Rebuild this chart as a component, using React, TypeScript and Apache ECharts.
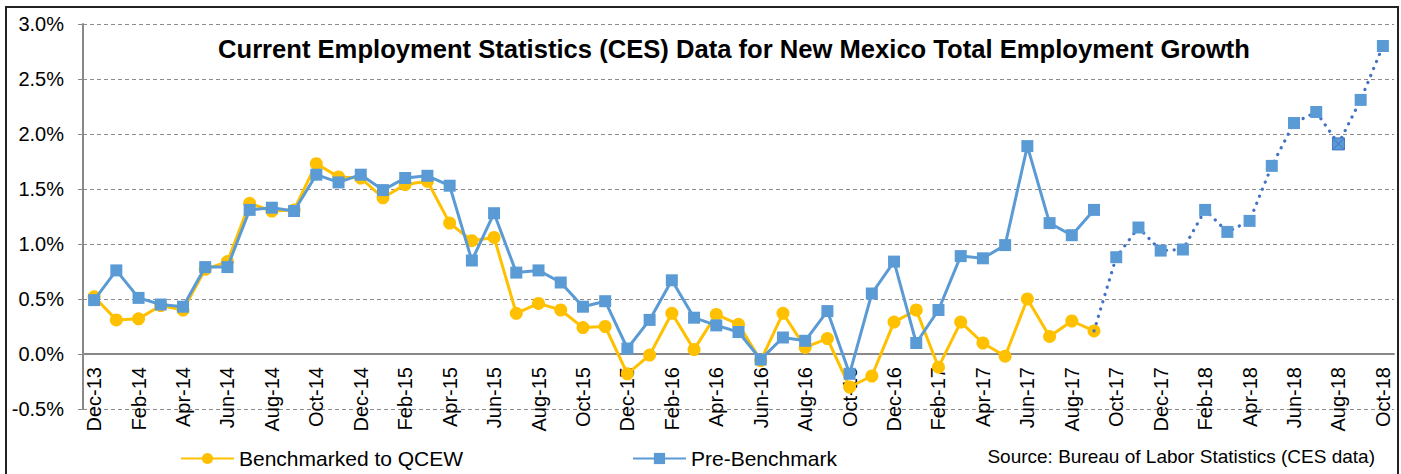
import React, { useEffect, useRef } from "react";
import * as echarts from "echarts";

const categories = [
  "Dec-13", "Jan-14", "Feb-14", "Mar-14", "Apr-14", "May-14", "Jun-14", "Jul-14", "Aug-14", "Sep-14", "Oct-14", "Nov-14",
  "Dec-14", "Jan-15", "Feb-15", "Mar-15", "Apr-15", "May-15", "Jun-15", "Jul-15", "Aug-15", "Sep-15", "Oct-15", "Nov-15",
  "Dec-15", "Jan-16", "Feb-16", "Mar-16", "Apr-16", "May-16", "Jun-16", "Jul-16", "Aug-16", "Sep-16", "Oct-16", "Nov-16",
  "Dec-16", "Jan-17", "Feb-17", "Mar-17", "Apr-17", "May-17", "Jun-17", "Jul-17", "Aug-17", "Sep-17", "Oct-17", "Nov-17",
  "Dec-17", "Jan-18", "Feb-18", "Mar-18", "Apr-18", "May-18", "Jun-18", "Jul-18", "Aug-18", "Sep-18", "Oct-18",
];

// Dec-13 .. Sep-17
const benchmarked = [
  0.52, 0.31, 0.32, 0.44, 0.40, 0.77, 0.84, 1.37, 1.30, 1.31, 1.73, 1.61,
  1.60, 1.42, 1.54, 1.57, 1.19, 1.03, 1.06, 0.37, 0.46, 0.40, 0.24, 0.25,
  -0.18, -0.01, 0.37, 0.04, 0.36, 0.27, -0.06, 0.37, 0.06, 0.14, -0.30, -0.20,
  0.29, 0.40, -0.12, 0.29, 0.10, -0.02, 0.50, 0.16, 0.30, 0.21,
];

// Dec-13 .. Sep-17
const preBenchmark = [
  0.49, 0.76, 0.51, 0.45, 0.43, 0.79, 0.79, 1.31, 1.33, 1.30, 1.63, 1.56,
  1.63, 1.49, 1.60, 1.62, 1.53, 0.85, 1.28, 0.74, 0.76, 0.65, 0.43, 0.48,
  0.05, 0.31, 0.67, 0.33, 0.26, 0.20, -0.05, 0.15, 0.12, 0.39, -0.18, 0.55,
  0.84, 0.10, 0.40, 0.89, 0.87, 0.99, 1.89, 1.19, 1.08, 1.31,
];

// Oct-17 .. Oct-18 (dotted continuation)
const projected = [0.88, 1.15, 0.94, 0.95, 1.31, 1.11, 1.21, 1.71, 2.10, 2.20, 1.91, 2.31, 2.80];
const crossedIndex = 10; // Aug-18 marker with a cross

const yTicks = { min: -0.5, max: 3.0, interval: 0.5 };

const FONT = "'Liberation Sans', Arial, sans-serif";
const YELLOW = "#FFC000";
const BLUE = "#5B9BD5";
const DOT_BLUE = "#4472C4";

const GRID_TOP = 24;
const GRID_BOTTOM = 65;
const CHART_H = 474;

export default function App() {
  const ref = useRef<HTMLDivElement>(null);

  useEffect(() => {
    if (!ref.current) return;
    const chart = echarts.init(ref.current, undefined, { renderer: "svg" });

    const startIdx = benchmarked.length - 1;
    const dottedData: any[] = categories.map(() => null);
    dottedData[startIdx] = { value: benchmarked[startIdx], symbol: "none" };
    projected.forEach((v, i) => {
      if (i === crossedIndex) {
        dottedData[startIdx + 1 + i] = {
          value: v,
          symbol: "path://M0 0L10 0L10 10L0 10Z M0 0L10 10 M10 0L0 10",
          itemStyle: { color: BLUE, borderColor: DOT_BLUE, borderWidth: 1 },
        };
      } else {
        dottedData[startIdx + 1 + i] = v;
      }
    });

    // offset that moves the category axis from the grid bottom up to the zero line
    const plotH = CHART_H - GRID_TOP - GRID_BOTTOM;
    const zeroOffset = -((0 - yTicks.min) / (yTicks.max - yTicks.min)) * plotH;

    const option: any = {
      animation: false,
      backgroundColor: "#fff",
      textStyle: { fontFamily: FONT },
      grid: {
        left: 83,
        right: 7,
        top: GRID_TOP,
        bottom: GRID_BOTTOM,
        containLabel: false,
        outerBoundsMode: "none",
      },
      xAxis: {
        type: "category",
        data: categories,
        boundaryGap: true,
        position: "bottom",
        offset: zeroOffset,
        axisLine: { show: true, onZero: false, lineStyle: { color: "#898989", width: 2 } },
        axisTick: { show: false },
        axisLabel: {
          interval: 1,
          rotate: 90,
          margin: 13,
          color: "#000",
          fontSize: 20,
          fontFamily: FONT,
        },
        splitLine: { show: false },
      },
      yAxis: {
        type: "value",
        min: yTicks.min,
        max: yTicks.max,
        interval: yTicks.interval,
        axisLine: { show: true, lineStyle: { color: "#898989", width: 2 } },
        axisTick: { show: true, length: 5, lineStyle: { color: "#898989", width: 1 } },
        axisLabel: {
          color: "#000",
          fontSize: 20,
          fontFamily: FONT,
          margin: 19,
          formatter: (v: number) => v.toFixed(1) + "%",
        },
        splitLine: { show: true, lineStyle: { color: "#8c8c8c", type: [4, 3], width: 1 } },
      },
      legend: [
        {
          data: ["Benchmarked to QCEW"],
          left: 175,
          top: 443,
          itemWidth: 53,
          itemHeight: 14,
          itemGap: 5,
          textStyle: { fontSize: 21, color: "#000", fontFamily: FONT },
        },
        {
          data: ["Pre-Benchmark"],
          left: 627,
          top: 443,
          itemWidth: 53,
          itemHeight: 14,
          itemGap: 5,
          textStyle: { fontSize: 21, color: "#000", fontFamily: FONT },
        },
      ],
      graphic: [
        {
          type: "rect",
          shape: { x: 6, y: 7, width: 1392, height: 480 },
          style: { fill: "none", stroke: "#222", lineWidth: 2 },
          silent: true,
          z: 100,
        },
        {
          type: "text",
          x: 734,
          y: 49,
          style: {
            text: "Current Employment Statistics (CES) Data for New Mexico Total Employment Growth",
            fontSize: 25.6,
            fontWeight: "bold",
            fontFamily: FONT,
            fill: "#000",
            align: "center",
            verticalAlign: "middle",
          },
          silent: true,
        },
        {
          type: "text",
          x: 1375,
          y: 456,
          style: {
            text: "Source: Bureau of Labor Statistics (CES data)",
            fontSize: 19,
            fontFamily: FONT,
            fill: "#000",
            align: "right",
            verticalAlign: "middle",
          },
          silent: true,
        },
      ],
      series: [
        {
          name: "Benchmarked to QCEW",
          type: "line",
          data: benchmarked,
          symbol: "circle",
          symbolSize: 13,
          showAllSymbol: true,
          lineStyle: { color: YELLOW, width: 3 },
          itemStyle: { color: YELLOW },
          z: 2,
        },
        {
          name: "Pre-Benchmark",
          type: "line",
          data: preBenchmark,
          symbol: "rect",
          symbolSize: 12,
          showAllSymbol: true,
          lineStyle: { color: BLUE, width: 3 },
          itemStyle: { color: BLUE },
          z: 3,
        },
        {
          name: "Projection",
          type: "line",
          data: dottedData,
          symbol: "rect",
          symbolSize: 12,
          showAllSymbol: true,
          connectNulls: false,
          lineStyle: { color: DOT_BLUE, width: 3.2, type: [0.1, 7.5], cap: "round" },
          itemStyle: { color: BLUE },
          z: 4,
        },
      ],
    };

    chart.setOption(option);
    return () => chart.dispose();
  }, []);

  return (
    <div
      ref={ref}
      style={{ position: "fixed", left: 0, top: 0, width: 1401, height: CHART_H }}
    />
  );
}
